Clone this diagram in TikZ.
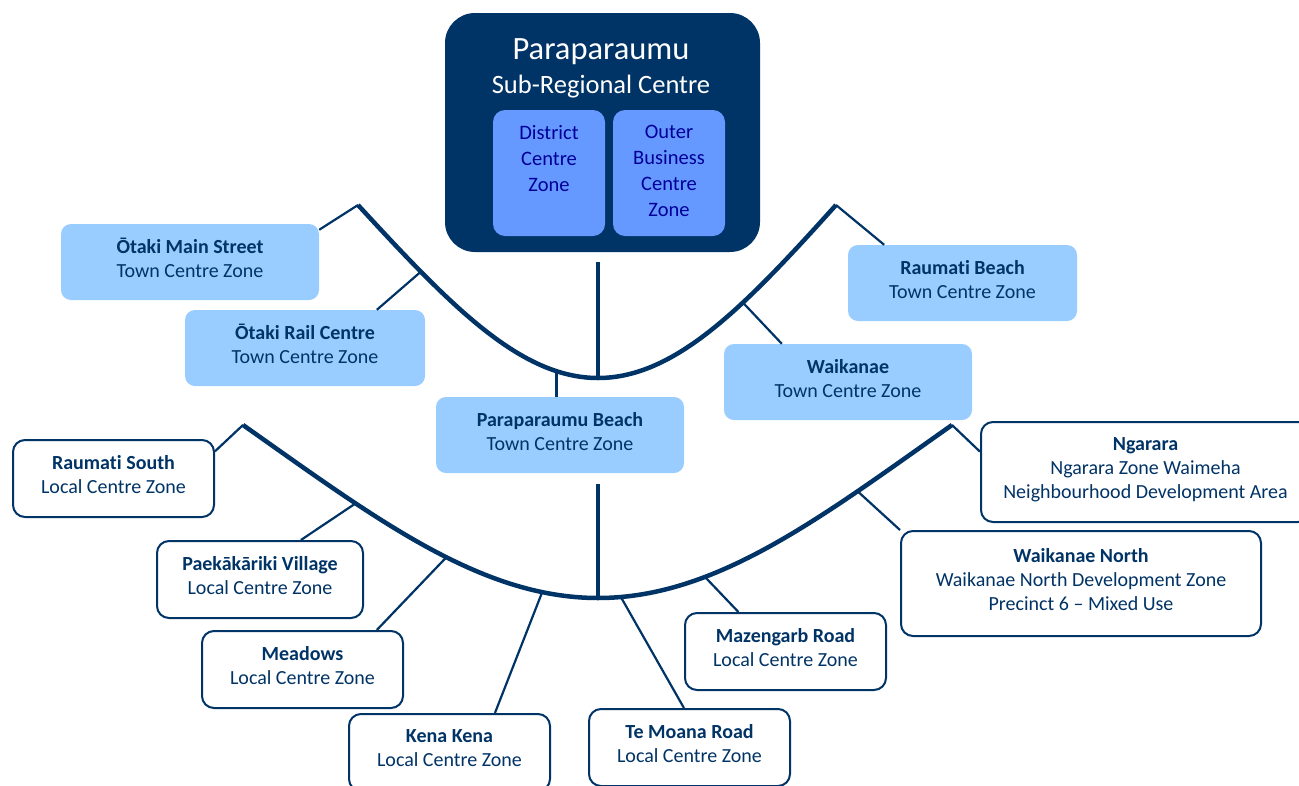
\documentclass[tikz,border=0pt]{standalone}
\usepackage{fontspec}
\setmainfont{Carlito}[Ligatures={TeX,NoCommon}]
\usepackage{tikz}

\definecolor{navy}{HTML}{003366}
\definecolor{skyblue}{HTML}{99CCFF}
\definecolor{midblue}{HTML}{6699FF}
\definecolor{inkblue}{HTML}{000099}

\begin{document}
\begin{tikzpicture}[x=1pt, y=-1pt,
    every node/.style={align=center, text=navy, inner sep=0pt, font=\fontsize{20}{24}\selectfont},
    towncentre/.style={fill=skyblue, rounded corners=10pt, minimum height=76pt,
        execute at end node={\rule[-8pt]{0pt}{1pt}}},
    localcentre/.style={draw=navy, line width=2pt, fill=white, rounded corners=12pt, minimum height=77pt,
        execute at end node={\rule[-8pt]{0pt}{1pt}}},
    subzone/.style={fill=midblue, rounded corners=12pt, minimum width=112pt, minimum height=126pt,
        text=inkblue, font=\fontsize{20.5}{26}\selectfont, execute at end node={\rule[-4pt]{0pt}{1pt}}},
    trunk/.style={draw=navy, line width=4.5pt},
    twig/.style={draw=navy, line width=2.2pt}]

    \useasboundingbox (0,0) rectangle (1299,785);

    % sub-regional centre
    \node[fill=navy, rounded corners=30pt, minimum width=315pt, minimum height=239pt] (main) at (602.5,132.5) {};
    \node[anchor=base, text=white, font=\fontsize{32.5}{36}\selectfont] (title) at (601,59.5) {Paraparaumu};
    \node[anchor=base, text=white, font=\fontsize{26.5}{30}\selectfont] (subtitle) at (601,93.5) {Sub-Regional Centre};
    \node[subzone] (district) at (549,173) {District\\Centre\\Zone\\\mbox{}};
    \node[subzone] (outer) at (669,173) {Outer\\Business\\Centre\\Zone};

    % town centres
    \foreach \id/\x/\y/\w/\place in {otakiMain/190/262/258/Ōtaki Main Street,
                                      otakiRail/305/348/240/Ōtaki Rail Centre,
                                      raumatiBeach/962.5/283/229/Raumati Beach,
                                      waikanae/848/382/248/Waikanae,
                                      ppBeach/560/435/248/Paraparaumu Beach} {
        \node[towncentre, minimum width=\w pt] (\id) at (\x,\y) {\textbf{\place}\\Town Centre Zone};
    }

    % local centres
    \foreach \id/\x/\y/\w/\place in {raumatiSouth/113.5/478.5/201/Raumati South,
                                      paekakariki/260/579.5/206/Paekākāriki Village,
                                      meadows/302.5/669.5/201/Meadows,
                                      kenaKena/449.5/752.5/201/Kena Kena,
                                      teMoana/689.5/747.5/201/Te Moana Road,
                                      mazengarb/785.5/651.5/201/Mazengarb Road} {
        \node[localcentre, minimum width=\w pt] (\id) at (\x,\y) {\textbf{\place}\\Local Centre Zone};
    }

    \node[localcentre, minimum width=360pt, minimum height=105pt] (waikanaeNorth) at (1081,583.5)
        {\textbf{Waikanae North}\\Waikanae North Development Zone\\Precinct 6 -- Mixed Use};
    \node[localcentre, minimum width=329pt, minimum height=100pt] (ngarara) at (1145.5,472)
        {\textbf{Ngarara}\\Ngarara Zone Waimeha\\Neighbourhood Development Area};

    % upper arc
    \draw[trunk] (358,205) coordinate (uL)
        .. controls (450,305) and (520,378) .. (598,378)
        coordinate[pos=0.24] (uRail) coordinate[pos=0.82] (uBeach) coordinate (uBot)
        .. controls (676,378) and (746,305) .. (836,205)
        coordinate[pos=0.63] (uWaik) coordinate (uR);

    % lower arc
    \draw[trunk] (243,425) coordinate (lL)
        .. controls (375,518) and (480,598) .. (598,598)
        coordinate[pos=0.3] (lPaek) coordinate[pos=0.56] (lMead) coordinate[pos=0.84] (lKena) coordinate (lBot)
        .. controls (716,598) and (820,518) .. (952,425)
        coordinate[pos=0.065] (lMoana) coordinate[pos=0.31] (lMaz) coordinate[pos=0.75] (lNorth) coordinate (lR);

    \draw[trunk, shorten <=10pt] (uBot |- main.south) -- (uBot);
    \draw[trunk, shorten <=11pt] (lBot |- ppBeach.south) -- (lBot);
    \draw[twig] (uBeach) -- (uBeach |- ppBeach.north);

    \foreach \from/\to in {uL/otakiMain.14, uRail/otakiRail.28, uR/raumatiBeach.154, uWaik/waikanae.150,
                           lL/raumatiSouth.15, lPaek/paekakariki.44, lMead/meadows.28, lKena/kenaKena.41,
                           lMoana/teMoana.98, lMaz/mazengarb.140, lNorth/waikanaeNorth.north west, lR/ngarara.173} {
        \draw[twig] (\from) -- (\to);
    }

\end{tikzpicture}
\end{document}
